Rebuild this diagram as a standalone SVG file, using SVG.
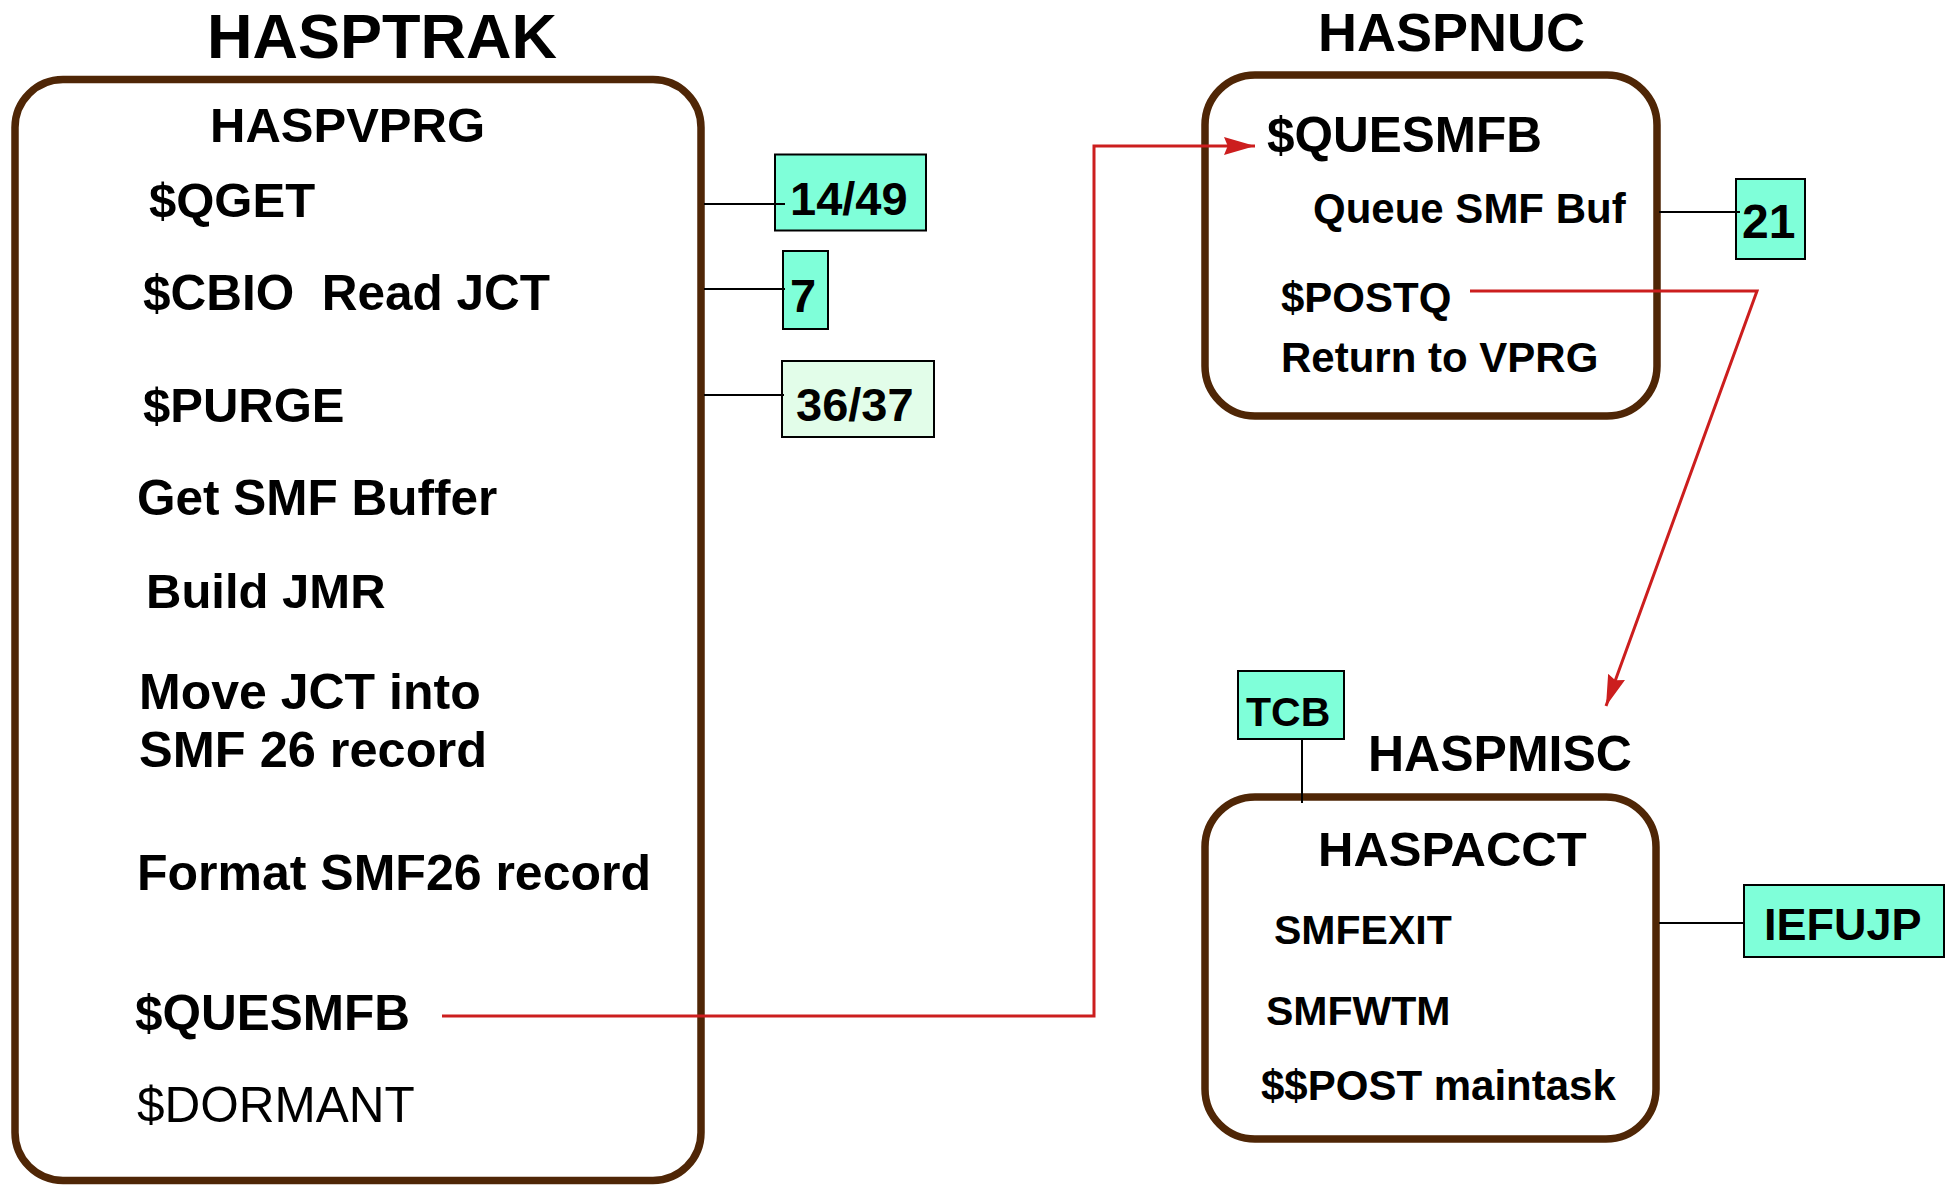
<svg xmlns="http://www.w3.org/2000/svg" width="1954" height="1188" viewBox="0 0 1954 1188">
<defs>
<style>
text{font-family:"Liberation Sans",Arial,sans-serif;font-weight:bold;fill:#000;}
.reg{font-weight:normal;}
.frame{fill:#fff;stroke:#4F2606;stroke-width:7.5;}
.tag{fill:#7FFFD9;stroke:#000;stroke-width:2;}
.tagl{fill:#E2FDE9;stroke:#000;stroke-width:2;}
.tie{stroke:#000;stroke-width:2;fill:none;}
.red{stroke:#CC1E1E;stroke-width:3;fill:none;}
</style>
<marker id="ah" viewBox="0 0 10 10" refX="10" refY="5" markerUnits="userSpaceOnUse" markerWidth="31" markerHeight="18" orient="auto" preserveAspectRatio="none">
<path d="M0,0 L10,5 L0,10 L1.2,5 z" fill="#CC1E1E"/>
</marker>
</defs>
<rect width="1954" height="1188" fill="#fff"/>

<g id="hasptrak">
<text x="207" y="58" font-size="63">HASPTRAK</text>
<rect class="frame" x="15" y="79.5" width="686" height="1101" rx="48" ry="48"/>
<text x="210" y="142" font-size="49">HASPVPRG</text>
<text x="149" y="217" font-size="49">$QGET</text>
<text x="143" y="310" font-size="49.5" style="white-space:pre">$CBIO  Read JCT</text>
<text x="143" y="422" font-size="49">$PURGE</text>
<text x="137" y="515" font-size="49.5">Get SMF Buffer</text>
<text x="146" y="608" font-size="49">Build JMR</text>
<text x="139" y="709" font-size="50">Move JCT into</text>
<text x="139" y="767" font-size="50.5">SMF 26 record</text>
<text x="137" y="890" font-size="50">Format SMF26 record</text>
<text x="135" y="1030" font-size="49.5">$QUESMFB</text>
<text class="reg" x="137" y="1122" font-size="49.5">$DORMANT</text>
</g>

<g id="tag-1449">
<rect class="tag" x="775" y="154.5" width="151" height="76"/>
<text x="790" y="215" font-size="47">14/49</text>
</g>
<g id="tag-7">
<rect class="tag" x="783" y="251" width="45" height="78"/>
<text x="790" y="312" font-size="47">7</text>
</g>
<g id="tag-3637">
<rect class="tagl" x="782" y="361" width="152" height="76"/>
<text x="796" y="421" font-size="47">36/37</text>
</g>

<g id="haspnuc">
<text x="1318" y="51" font-size="54">HASPNUC</text>
<rect class="frame" x="1205" y="75" width="452" height="341" rx="50" ry="50"/>
<text x="1267" y="152" font-size="49.5">$QUESMFB</text>
<text x="1313" y="223" font-size="42">Queue SMF Buf</text>
<text x="1281" y="312" font-size="42">$POSTQ</text>
<text x="1281" y="372" font-size="42">Return to VPRG</text>
</g>
<g id="tag-21">
<rect class="tag" x="1736" y="179" width="69" height="80"/>
<text x="1742" y="238" font-size="48">21</text>
</g>

<g id="haspmisc">
<text x="1368" y="771" font-size="50">HASPMISC</text>
<rect class="frame" x="1205" y="797" width="451" height="342" rx="50" ry="50"/>
<text x="1318" y="866" font-size="49">HASPACCT</text>
<text x="1274" y="944" font-size="41">SMFEXIT</text>
<text x="1266" y="1025" font-size="41">SMFWTM</text>
<text x="1261" y="1100" font-size="42">$$POST maintask</text>
</g>
<g id="tag-tcb">
<rect class="tag" x="1238" y="671" width="106" height="68"/>
<text x="1246" y="726" font-size="41">TCB</text>
</g>
<g id="tag-iefujp">
<rect class="tag" x="1744" y="885" width="200" height="72"/>
<text x="1764" y="940" font-size="45">IEFUJP</text>
</g>

<g id="connectors">
<line class="tie" x1="704" y1="204" x2="785" y2="204"/>
<line class="tie" x1="704" y1="289" x2="785" y2="289"/>
<line class="tie" x1="704" y1="395" x2="784" y2="395"/>
<line class="tie" x1="1659" y1="212" x2="1740" y2="212"/>
<line class="tie" x1="1302" y1="739" x2="1302" y2="803"/>
<line class="tie" x1="1659" y1="923" x2="1744" y2="923"/>
<polyline class="red" points="442,1016 1094,1016 1094,146 1255,146" marker-end="url(#ah)"/>
<polyline class="red" points="1470,291 1757,291 1606,706" marker-end="url(#ah)"/>
</g>
</svg>
